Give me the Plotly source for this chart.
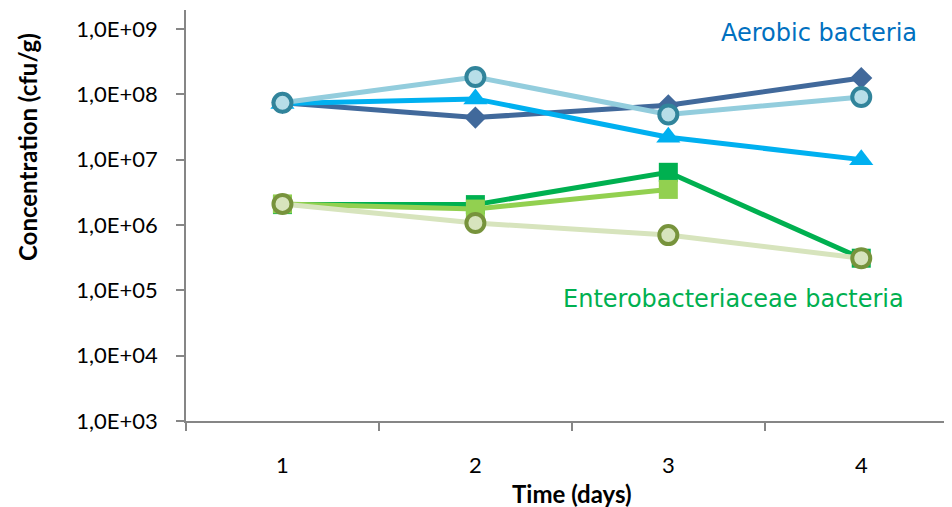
import plotly.graph_objects as go

days = [1, 2, 3, 4]
day_labels = ["1", "2", "3", "4"]
y_tick_vals = [1e3, 1e4, 1e5, 1e6, 1e7, 1e8, 1e9]
y_tick_text = ["1,0E+03", "1,0E+04", "1,0E+05", "1,0E+06", "1,0E+07", "1,0E+08", "1,0E+09"]

aerobic_a = [7.4e7, 4.4e7, 6.8e7, 1.78e8]
aerobic_b = [7.2e7, 8.5e7, 2.2e7, 1.0e7]
aerobic_c = [7.4e7, 1.84e8, 4.9e7, 9.1e7]
entero_a = [2.05e6, 2.05e6, 6.4e6, 3.1e5]
entero_b = [2.1e6, 1.75e6, 3.5e6, None]
entero_c = [2.1e6, 1.07e6, 7.0e5, 3.1e5]

fig = go.Figure()

def add(y, line_color, marker):
    fig.add_trace(go.Scatter(x=days, y=y, mode="lines+markers",
                             line=dict(color=line_color, width=5),
                             marker=marker, showlegend=False, connectgaps=False))

add(aerobic_a, "#41699B", dict(symbol="diamond", size=17, color="#41699B"))
add(aerobic_b, "#00B0F0", dict(symbol="triangle-up", size=21, color="#00B0F0"))
add(aerobic_c, "#93CDDD", dict(symbol="circle", size=18, color="#B7DEE8",
                              line=dict(color="#31849B", width=4)))
add(entero_a, "#00B050", dict(symbol="square", size=19, color="#00B050"))
add(entero_b, "#92D050", dict(symbol="square", size=19, color="#92D050"))
add(entero_c, "#D7E4BD", dict(symbol="circle", size=18, color="#D7E4BD",
                             line=dict(color="#77933C", width=4)))

axis_col = "#868686"
PL, PR, PT, PB = 186, 950, 10, 421  # target plot area in page pixels
OFF = 8  # page body offset
W, H = 944, 499
fig.update_layout(
    width=W, height=H,
    margin=dict(l=PL - OFF, r=W + OFF - PR, t=PT - OFF, b=H + OFF - PB),
    paper_bgcolor="white", plot_bgcolor="white",
    font=dict(family="Lato, Open Sans, sans-serif", size=22, color="#000000"),
    xaxis=dict(range=[0.5, 4.46], tickvals=days, ticktext=day_labels,
               showgrid=False, zeroline=False, showline=True, linecolor=axis_col,
               linewidth=1.5, ticks="", ticklabelstandoff=24,
               minor=dict(tickvals=[0.5, 1.5, 2.5, 3.5], ticks="outside",
                          ticklen=8, tickcolor=axis_col, tickwidth=1.5)),
    yaxis=dict(type="log", range=[3, 9.29], tickvals=y_tick_vals, ticktext=y_tick_text,
               showgrid=False, zeroline=False, showline=True, linecolor=axis_col,
               linewidth=1.5, ticks="outside", ticklen=8, tickcolor=axis_col,
               tickwidth=1.5, ticklabelstandoff=14),
)

pw, ph = PR - PL, PB - PT

def ann(text, px, py, size, color="#000000", family="Lato, Open Sans, sans-serif", angle=0):
    fig.add_annotation(text=text, xref="paper", yref="paper",
                       x=(px - PL) / pw, y=(PB - py) / ph, textangle=angle,
                       xanchor="center", yanchor="middle", showarrow=False,
                       font=dict(family=family, size=size, color=color))

ann("<b>Concentration (cfu/g)</b>", 27, 147, 24, angle=-90)
ann("<b>Time (days)</b>", 572, 493, 24)
ann("Aerobic bacteria", 819, 33, 24, color="#0070C0", family="DejaVu Sans")
ann("Enterobacteriaceae bacteria", 733, 299, 24, color="#00B050", family="DejaVu Sans")

fig.write_html("out.html")
